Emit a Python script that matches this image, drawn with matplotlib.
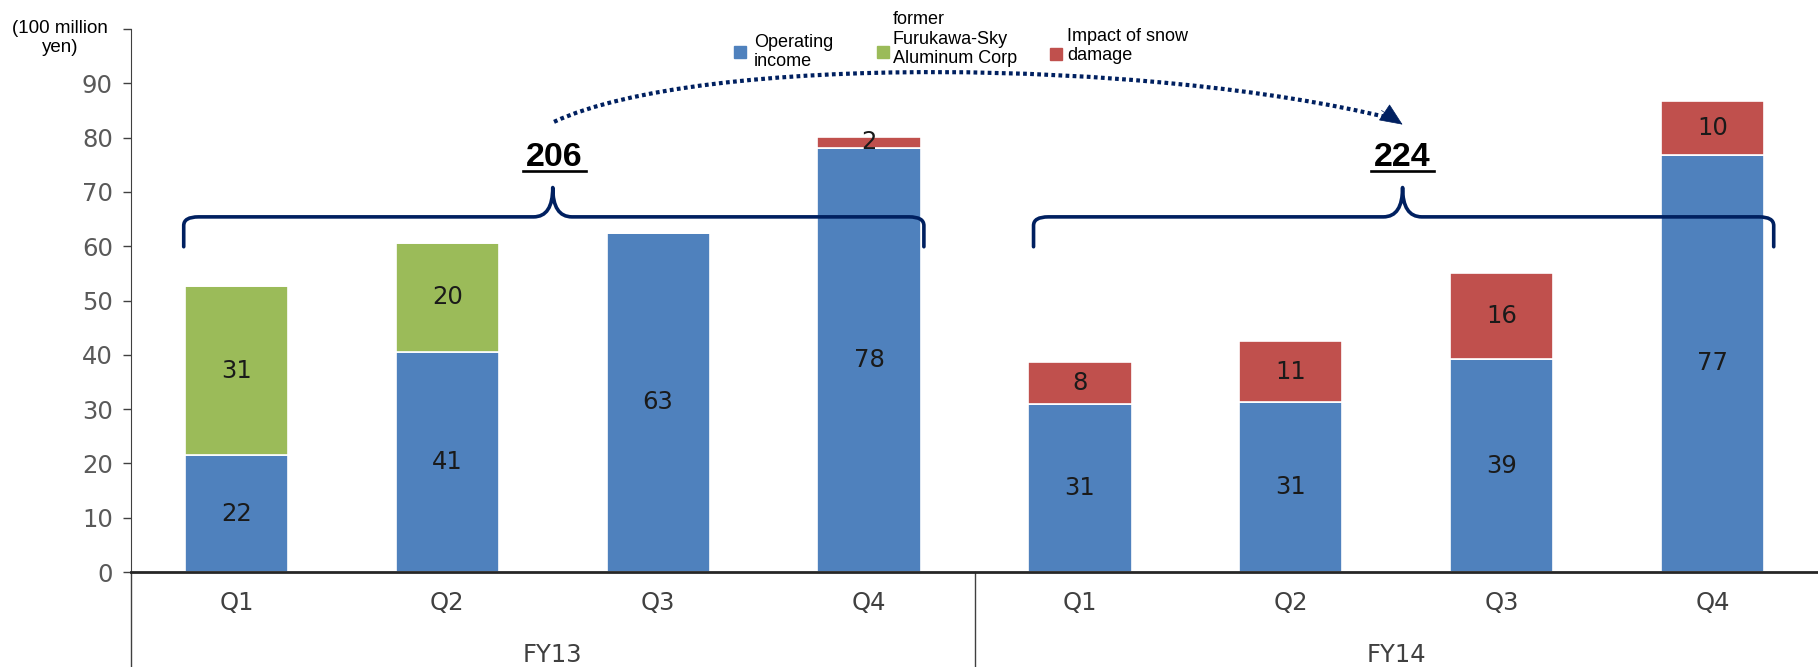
import numpy as np
import matplotlib.pyplot as plt
from matplotlib.path import Path
from matplotlib.patches import PathPatch, Rectangle
import matplotlib.transforms as mtransforms

# data (100 million yen)
quarters = ["Q1", "Q2", "Q3", "Q4", "Q1", "Q2", "Q3", "Q4"]
years = ["FY13", "FY14"]
op_income = [21.5, 40.6, 62.5, 78.0, 31.0, 31.3, 39.2, 76.8]
op_labels = ["22", "41", "63", "78", "31", "31", "39", "77"]
furukawa = [31.2, 20.0, 0, 0, 0, 0, 0, 0]
furukawa_labels = ["31", "20", "", "", "", "", "", ""]
snow = [0, 0, 0, 2.2, 7.6, 11.2, 15.8, 9.9]
snow_labels = ["", "", "", "2", "8", "11", "16", "10"]
totals = ["206", "224"]

blue = "#4F81BD"
green = "#9BBB59"
red = "#C0504D"
navy = "#002060"

W, H = 1818, 667
fig = plt.figure(figsize=(W / 100, H / 100), dpi=100)
ax = fig.add_axes([131 / W, 1 - 572 / H, 1 - 131 / W, (572 - 29) / H])

x = np.arange(len(quarters))
bw = 0.49
op = np.array(op_income)
fu = np.array(furukawa)
sn = np.array(snow)
ax.bar(x, op, bw, color=blue, edgecolor="white", linewidth=1.2, zorder=2)
ax.bar(x, fu, bw, bottom=op, color=green, edgecolor="white", linewidth=1.2, zorder=2)
ax.bar(x, sn, bw, bottom=op + fu, color=red, edgecolor="white", linewidth=1.2, zorder=2)

# value labels in the middle of each segment
lab_kw = dict(ha="center", va="center", fontsize=17.5, color="#1a1a1a", family="DejaVu Sans", zorder=4)
for i in x:
    ax.text(i, op[i] / 2, op_labels[i], **lab_kw)
    if furukawa_labels[i]:
        ax.text(i, op[i] + fu[i] / 2, furukawa_labels[i], **lab_kw)
    if snow_labels[i]:
        ax.text(i, op[i] + fu[i] + sn[i] / 2, snow_labels[i], **lab_kw)

ax.set_xlim(-0.5, 7.5)
ax.set_ylim(0, 100)
ax.set_yticks(range(0, 101, 10))
ax.set_yticklabels([str(v) for v in range(0, 91, 10)] + [""])
ax.tick_params(axis="y", direction="out", length=6, width=1, colors="#404040",
               labelsize=17.5, labelcolor="#595959", pad=7)
ax.set_xticks([])
for s in ["top", "right"]:
    ax.spines[s].set_visible(False)
ax.spines["left"].set_color("#404040")
ax.spines["bottom"].set_color("#262626")
ax.spines["bottom"].set_linewidth(2)

fig.text(60 / W, 1 - 38 / H, "(100 million\nyen)", ha="center", va="center",
         fontsize=13.5, family="Liberation Sans", multialignment="center", linespacing=1.15)

# category axis below
trans = mtransforms.blended_transform_factory(ax.transData, ax.transAxes)
cat_kw = dict(transform=trans, ha="center", va="center", fontsize=17.5,
              color="#404040", family="DejaVu Sans")
for i in x:
    ax.text(i, -0.057, quarters[i], **cat_kw)
ax.text(1.5, -0.153, years[0], **cat_kw)
ax.text(5.5, -0.153, years[1], **cat_kw)
ax.plot([-0.5, -0.5], [0, -0.18], transform=trans, color="#404040", lw=1, clip_on=False)
ax.plot([3.5, 3.5], [0, -0.18], transform=trans, color="#404040", lw=1, clip_on=False)


# curly braces over each year
def brace(x0, x1, xc, y0, y1, ytop):
    rx, ry = 0.07, 1.6
    verts = [(x0, y0), (x0, y1 - ry), (x0, y1), (x0 + rx, y1),
             (xc - rx * 1.3, y1), (xc, y1), (xc, ytop),
             (xc, y1), (xc + rx * 1.3, y1),
             (x1 - rx, y1), (x1, y1), (x1, y1 - ry), (x1, y0)]
    codes = [Path.MOVETO, Path.LINETO, Path.CURVE3, Path.CURVE3,
             Path.LINETO, Path.CURVE3, Path.CURVE3,
             Path.CURVE3, Path.CURVE3,
             Path.LINETO, Path.CURVE3, Path.CURVE3, Path.LINETO]
    ax.add_patch(PathPatch(Path(verts, codes), fill=False, edgecolor=navy,
                           lw=2.6, capstyle="round", joinstyle="round", zorder=3))


brace(-0.25, 3.26, 1.5, 59.9, 65.4, 70.8)
brace(3.78, 7.29, 5.53, 59.9, 65.4, 70.8)

# totals, bold and underlined
for xc, t in zip([1.508, 5.53], totals):
    ax.text(xc, 74.8, t, ha="center", va="baseline", fontsize=24.5, fontweight="bold",
            family="Liberation Sans", color="black")
    ax.plot([xc - 0.15, xc + 0.15], [73.9, 73.9], color="black", lw=1.9)

# dotted arc from FY13 total to FY14 total
arc = Path([(1.506, 82.9), (2.2, 95.5), (4.33, 94.5), (5.47, 83.6)],
           [Path.MOVETO, Path.CURVE4, Path.CURVE4, Path.CURVE4])
ax.add_patch(PathPatch(arc, fill=False, edgecolor=navy, lw=3.0,
                       linestyle=(0, (0.9, 0.8)), capstyle="butt", zorder=3, clip_on=False))
ax.annotate("", xy=(5.53, 82.4), xytext=(5.43, 85.0),
            arrowprops=dict(arrowstyle="-|>,head_length=1.5,head_width=0.65", color=navy,
                            lw=0.5, shrinkA=0, shrinkB=0),
            annotation_clip=False)

# legend drawn by hand
leg = [(740, 52, blue, 754, 52, "Operating\nincome"),
       (883, 52, green, 893, 39, "former\nFurukawa-Sky\nAluminum Corp"),
       (1056, 54, red, 1067, 46, "Impact of snow\ndamage")]
for sx, sy, col, tx, ty, txt in leg:
    fig.patches.append(Rectangle(((sx - 6) / W, 1 - (sy + 6) / H), 12 / W, 12 / H,
                                 transform=fig.transFigure, color=col))
    fig.text(tx / W, 1 - ty / H, txt, ha="left", va="center", fontsize=13,
             family="Liberation Sans", linespacing=1.17)

fig.savefig("out.png", dpi=100)
